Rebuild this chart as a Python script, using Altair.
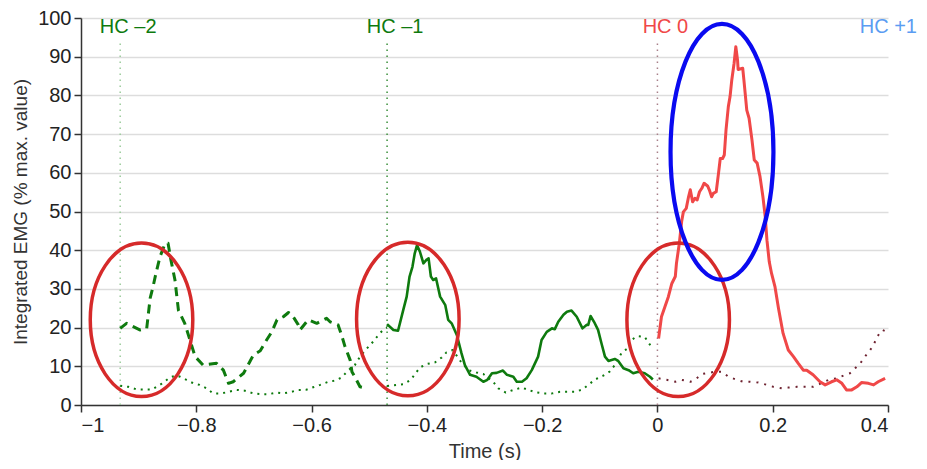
import altair as alt
import pandas as pd

# ---------------- data ----------------
x_ticks = [-1, -0.8, -0.6, -0.4, -0.2, 0, 0.2, 0.4]
y_ticks = [0, 10, 20, 30, 40, 50, 60, 70, 80, 90, 100]

# HC -2 cycle, dashed green
dash_t = [-0.932, -0.921, -0.898, -0.886, -0.883, -0.880, -0.875, -0.870, -0.863, -0.854,
          -0.849, -0.844, -0.837, -0.831, -0.820, -0.811, -0.802, -0.788, -0.765, -0.753,
          -0.744, -0.736, -0.718, -0.701, -0.689, -0.678, -0.669, -0.660, -0.649, -0.640,
          -0.634, -0.623, -0.620, -0.606, -0.591, -0.574, -0.568, -0.554, -0.548, -0.542,
          -0.533, -0.530, -0.525, -0.516, -0.504]
dash_v = [19.8, 21.1, 19.4, 19.8, 23.7, 27.6, 30.6, 34.0, 38.3, 41.8,
          41.8, 37.5, 32.3, 24.5, 21.1, 16.8, 12.5, 10.3, 10.8, 9.0,
          5.6, 6.0, 8.2, 12.9, 14.0, 16.8, 18.9, 22.0, 22.8, 23.9,
          23.3, 20.7, 19.4, 22.0, 21.1, 22.4, 21.5, 20.7, 18.1, 15.1,
          11.6, 8.6, 7.3, 4.7, 4.3]

# HC -1 cycle, solid green
solid_t = [-0.469, -0.458, -0.450, -0.441, -0.435, -0.430, -0.425, -0.421, -0.417, -0.412,
           -0.406, -0.400, -0.397, -0.393, -0.389, -0.384, -0.377, -0.368, -0.363, -0.357,
           -0.348, -0.340, -0.334, -0.325, -0.314, -0.302, -0.295, -0.287, -0.279, -0.268,
           -0.261, -0.250, -0.244, -0.235, -0.227, -0.218, -0.207, -0.201, -0.192, -0.183,
           -0.178, -0.172, -0.163, -0.157, -0.149, -0.140, -0.130, -0.123, -0.120, -0.116,
           -0.110, -0.103, -0.097, -0.091, -0.085, -0.074, -0.068, -0.059, -0.050, -0.042,
           -0.033, -0.022, -0.013, -0.008]
solid_v = [20.9, 19.4, 19.2, 24.5, 28.0, 33.2, 35.7, 39.2, 41.3, 39.6,
           36.6, 37.6, 37.9, 33.2, 32.3, 32.7, 28.0, 25.8, 22.0, 21.1,
           18.1, 13.4, 10.3, 7.8, 7.3, 6.0, 6.5, 8.2, 8.3, 8.9,
           7.8, 7.3, 6.0, 6.0, 6.9, 9.0, 12.5, 16.8, 18.9, 19.8,
           19.6, 21.5, 23.3, 24.1, 24.4, 22.8, 19.8, 20.7, 20.7, 23.0,
           21.5, 19.4, 15.9, 12.5, 11.4, 11.9, 11.4, 9.5, 9.0, 8.2,
           8.6, 8.2, 7.3, 6.6]

# HC 0 cycle, solid red
red_t = [0.002, 0.007, 0.013, 0.019, 0.025, 0.031, 0.033, 0.038, 0.042, 0.045,
         0.050, 0.054, 0.057, 0.061, 0.065, 0.069, 0.073, 0.077, 0.081, 0.087,
         0.090, 0.094, 0.097, 0.102, 0.106, 0.109, 0.113, 0.116, 0.119, 0.123,
         0.126, 0.129, 0.133, 0.136, 0.139, 0.140, 0.148, 0.150, 0.155, 0.159,
         0.164, 0.168, 0.173, 0.178, 0.183, 0.187, 0.190, 0.194, 0.198, 0.204,
         0.210, 0.218, 0.227, 0.236, 0.244, 0.253, 0.259, 0.270, 0.282, 0.291,
         0.302, 0.311, 0.320, 0.328, 0.337, 0.346, 0.354, 0.366, 0.375, 0.383,
         0.395]
red_v = [17.2, 22.8, 25.4, 28.0, 31.4, 33.2, 36.6, 41.8, 47.4, 49.9,
         50.8, 53.8, 55.6, 52.5, 53.4, 53.0, 55.1, 56.0, 57.3, 56.6,
         55.6, 53.8, 54.7, 55.1, 59.9, 63.7, 63.7, 64.6, 71.1, 77.1,
         79.7, 84.0, 88.3, 92.6, 89.1, 86.7, 87.0, 84.0, 76.2, 74.1,
         68.5, 63.3, 62.5, 59.0, 53.8, 48.7, 42.6, 37.0, 34.0, 30.5,
         25.0, 18.5, 14.2, 12.5, 10.8, 9.0, 9.0, 7.8, 6.0, 5.2,
         6.0, 6.5, 5.6, 3.9, 3.9, 4.7, 5.8, 5.6, 5.2, 6.0,
         6.9]

# dotted green, HC -2 to HC -1
dot1_t = [-0.932, -0.918, -0.903, -0.890, -0.877, -0.860, -0.845, -0.835, -0.828, -0.817,
          -0.805, -0.794, -0.782, -0.771, -0.756, -0.744, -0.730, -0.716, -0.701, -0.686,
          -0.675, -0.660, -0.649, -0.635, -0.623, -0.610, -0.597, -0.585, -0.571, -0.559,
          -0.548, -0.536, -0.525, -0.516, -0.504, -0.493, -0.484, -0.476, -0.469]
dot1_v = [5.0, 4.7, 4.0, 4.0, 4.0, 5.5, 7.2, 7.6, 7.3, 6.5,
          5.6, 5.2, 4.3, 3.0, 3.0, 3.4, 3.9, 3.7, 3.0, 2.8,
          2.8, 3.2, 3.0, 3.4, 3.9, 3.9, 4.6, 5.2, 6.0, 6.3,
          7.1, 9.0, 10.3, 12.5, 14.6, 16.4, 18.1, 19.4, 20.0]

# dotted green, HC -1 to HC 0
dot2_t = [-0.469, -0.452, -0.440, -0.428, -0.421, -0.412, -0.400, -0.386, -0.374, -0.366,
          -0.355, -0.342, -0.328, -0.314, -0.302, -0.285, -0.276, -0.263, -0.250, -0.235,
          -0.224, -0.212, -0.198, -0.183, -0.169, -0.155, -0.143, -0.130, -0.120, -0.108,
          -0.095, -0.083, -0.074, -0.062, -0.052, -0.045, -0.035, -0.022, -0.014, -0.008]
dot2_v = [4.9, 5.2, 5.4, 6.5, 7.9, 9.7, 10.6, 11.0, 12.3, 13.6,
          14.2, 11.4, 9.0, 8.4, 8.0, 6.0, 4.3, 3.2, 3.9, 4.5,
          3.9, 3.3, 3.0, 3.0, 3.4, 3.4, 3.4, 4.0, 5.2, 6.6,
          7.5, 8.6, 10.3, 13.5, 14.6, 16.8, 17.8, 17.6, 15.8, 14.5]

# dotted dark red, HC 0 to HC +1
dot3_t = [0.002, 0.016, 0.031, 0.042, 0.057, 0.065, 0.077, 0.088, 0.100, 0.112,
          0.123, 0.138, 0.149, 0.161, 0.175, 0.190, 0.201, 0.216, 0.227, 0.242,
          0.256, 0.270, 0.284, 0.297, 0.311, 0.326, 0.334, 0.343, 0.352, 0.360,
          0.369, 0.375, 0.381, 0.390, 0.399]
dot3_v = [6.9, 6.5, 6.0, 6.5, 6.0, 6.5, 8.0, 8.3, 8.6, 8.6,
          7.3, 6.5, 6.0, 6.0, 5.8, 5.2, 4.7, 4.3, 4.5, 4.7,
          4.7, 4.7, 5.6, 6.5, 6.9, 7.8, 8.2, 9.5, 10.8, 12.5,
          14.2, 15.5, 17.6, 19.4, 18.9]

# heel contacts
hc_labels = ["HC \u20132", "HC \u20131", "HC 0"]
hc_label_t = [-0.932, -0.469, 0.0]
hc_colors = ["#0e7a0e", "#0e7a0e", "#f04848"]
hc_next_label = ["HC +1"]
hc_next_t = [0.4]
hc_next_color = ["#5a9cf2"]
hc_rule_t = [-0.932, -0.469, 0.0]
hc_rule_colors = ["#9ccc9c", "#3a8f3a", "#a8808a"]
hc_rule_top = [94, 94, 94]

# annotation ellipses (centres)
red_ell_t = [-0.895, -0.433, 0.036]
red_ell_v = [22.0, 22.2, 22.0]
blue_ell_t = [0.112]
blue_ell_v = [65.4]

# ---------------- chart ----------------
FONT = "Liberation Sans"
GREEN = "#0e7a0e"

x_scale = alt.Scale(domain=[-1, 0.4], nice=False, zero=False)
y_scale = alt.Scale(domain=[0, 100], nice=False, zero=False)

x_axis = alt.Axis(values=x_ticks, format="~g", title="Time (s)", grid=False,
                  titlePadding=6, labelPadding=3, labelOverlap=False)
y_axis = alt.Axis(values=y_ticks, title="Integrated EMG (% max. value)",
                  grid=True, titlePadding=7, titleFontSize=19,
                  labelOverlap=False, tickCount=11)


def XQ(field):
    return alt.X(field, scale=x_scale, axis=x_axis)


def YQ(field):
    return alt.Y(field, scale=y_scale, axis=y_axis)


def df(t, v):
    return pd.DataFrame({"t": t, "v": v})


def line(t, v, color, width, dash=None):
    kw = dict(color=color, strokeWidth=width, strokeJoin="round", strokeCap="butt")
    if dash is not None:
        kw["strokeDash"] = dash
    return alt.Chart(df(t, v)).mark_line(**kw).encode(x=XQ("t:Q"), y=YQ("v:Q"))


dot1 = line(dot1_t, dot1_v, GREEN, 2, [2, 5])
dot2 = line(dot2_t, dot2_v, GREEN, 2, [2, 5])
dot3 = line(dot3_t, dot3_v, "#6e2230", 2, [2, 6])
dash = line(dash_t, dash_v, GREEN, 3, [9, 6])
solid = line(solid_t, solid_v, GREEN, 2.6)
red = line(red_t, red_v, "#f04848", 3)

rules_df = pd.DataFrame({"t": hc_rule_t, "c": hc_rule_colors,
                         "v": [0] * len(hc_rule_t), "v1": hc_rule_top})
rules = alt.Chart(rules_df).mark_rule(strokeWidth=1.5, strokeDash=[1.5, 4.5]).encode(
    x=XQ("t:Q"),
    y=YQ("v:Q"),
    y2="v1:Q",
    color=alt.Color("c:N", scale=None),
)

labels_df = pd.DataFrame({"t": hc_label_t, "label": hc_labels, "c": hc_colors})
labels = alt.Chart(labels_df).mark_text(
    font=FONT, fontSize=20, dx=8, baseline="middle", align="center"
).encode(
    x=XQ("t:Q"),
    y=alt.value(9),
    text="label:N",
    color=alt.Color("c:N", scale=None),
)

next_df = pd.DataFrame({"t": hc_next_t, "label": hc_next_label, "c": hc_next_color})
next_label = alt.Chart(next_df).mark_text(
    font=FONT, fontSize=20, dx=29, baseline="middle", align="right"
).encode(
    x=XQ("t:Q"),
    y=alt.value(9),
    text="label:N",
    color=alt.Color("c:N", scale=None),
)

RED_PATH = ("M 0 -1 C 0.369 -1 0.668 -0.552 0.668 0 C 0.668 0.552 0.369 1 0 1 "
            "C -0.369 1 -0.668 0.552 -0.668 0 C -0.668 -0.552 -0.369 -1 0 -1 Z")
BLUE_PATH = ("M 0 -1 C 0.222 -1 0.402 -0.552 0.402 0 C 0.402 0.552 0.222 1 0 1 "
             "C -0.222 1 -0.402 0.552 -0.402 0 C -0.402 -0.552 -0.222 -1 0 -1 Z")

red_ell = alt.Chart(df(red_ell_t, red_ell_v)).mark_point(
    shape=RED_PATH, size=23562, filled=False, color="#d62a2a", strokeWidth=3.5, opacity=1
).encode(x=XQ("t:Q"), y=YQ("v:Q"))

blue_ell = alt.Chart(df(blue_ell_t, blue_ell_v)).mark_point(
    shape=BLUE_PATH, size=65536, filled=False, color="#0a0af0", strokeWidth=4.2, opacity=1
).encode(x=XQ("t:Q"), y=YQ("v:Q"))

chart = alt.layer(
    rules, dot1, dot2, dot3, dash, solid, red, red_ell, blue_ell, labels, next_label
).properties(
    width=807, height=387,
    autosize=alt.AutoSizeParams(type="none"),
    padding={"left": 73, "top": 10, "right": 30, "bottom": 55},
).configure_view(stroke=None).configure_axis(
    labelFont=FONT, titleFont=FONT, labelFontSize=20, titleFontSize=20,
    labelColor="#222222", titleColor="#333333", titleFontWeight="normal",
    domainColor="#333333", domainWidth=1.5, tickColor="#333333", tickWidth=1.5,
    tickSize=7, labelPadding=3, gridColor="#dddddd", gridWidth=1.5,
)

chart.save("out.html", embed_options={"renderer": "svg", "actions": False})
